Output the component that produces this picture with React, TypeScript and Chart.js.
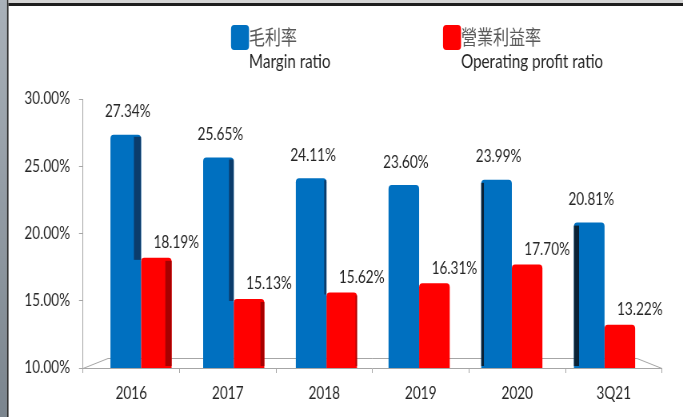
import React, { useEffect, useRef } from 'react';
import { Chart, registerables } from 'chart.js';

Chart.register(...registerables);

// ---- data ----
const CATEGORIES = ['2016', '2017', '2018', '2019', '2020', '3Q21'];
const MARGIN_RATIO = [27.34, 25.65, 24.11, 23.6, 23.99, 20.81];
const OPERATING_PROFIT_RATIO = [18.19, 15.13, 15.62, 16.31, 17.7, 13.22];
const SERIES_ZH = ['毛利率', '營業利益率'];
const SERIES_EN = ['Margin ratio', 'Operating profit ratio'];
const Y_MIN = 10;
const Y_MAX = 30;
const Y_STEP = 5;

// ---- style / layout ----
// The reference is a horizontally squeezed picture: the chart is drawn on a
// wider canvas and squeezed with a CSS transform to the 683px window.
const VIEW_W = 683;
const VIEW_H = 417;
const CANVAS_W = 854;
const SX = VIEW_W / CANVAS_W;
const LATIN = 'Lato, "Open Sans", sans-serif';
const CJK = '"Noto Sans CJK TC", "Noto Sans CJK SC", sans-serif';
const FRONT = ['#0070C0', '#FF0000'];
const SIDE_RIGHT = ['#0b3c6b', '#a80000'];
const SIDE_LEFT = '#0a2236';
const TEXT = '#262626';
const AXIS = '#a6a6a6';

const backgroundPlugin = {
  id: 'bgFrame',
  beforeDraw(chart: any) {
    const { ctx, width, height } = chart;
    ctx.save();
    ctx.fillStyle = '#ffffff';
    ctx.fillRect(0, 0, width, height);
    const g = ctx.createLinearGradient(0, 0, 0, height);
    g.addColorStop(0, '#a9b1b9');
    g.addColorStop(1, '#7b858e');
    ctx.fillStyle = g;
    ctx.fillRect(0, 0, 7 / SX, height);
    ctx.fillStyle = '#2b2b2b';
    ctx.fillRect(7 / SX, 0, 1.5 / SX, height);
    ctx.fillStyle = '#d4d4d4';
    ctx.fillRect(8.5 / SX, 0, width, 3);
    ctx.fillStyle = '#1e1e1e';
    ctx.fillRect(8.5 / SX, 3, width, 3);
    ctx.restore();
  },
};

const floorPlugin = {
  id: 'floor3d',
  beforeDatasetsDraw(chart: any) {
    const { ctx, chartArea } = chart;
    const { left, right, bottom } = chartArea;
    const d = 25 / SX;
    ctx.save();
    ctx.strokeStyle = AXIS;
    ctx.lineWidth = 1;
    ctx.beginPath();
    ctx.moveTo(left, bottom + 0.5);
    ctx.lineTo(left + d, bottom - 9.5);
    ctx.lineTo(right - d, bottom - 9.5);
    ctx.lineTo(right, bottom + 0.5);
    ctx.stroke();
    ctx.restore();
  },
};

const sidePlugin = {
  id: 'side3d',
  afterDatasetsDraw(chart: any) {
    const { ctx, chartArea } = chart;
    const cx = chartArea.left + (chartArea.right - chartArea.left) * 0.54;
    const floor = chartArea.bottom;
    const m0 = chart.getDatasetMeta(0);
    const m1 = chart.getDatasetMeta(1);
    ctx.save();
    m0.data.forEach((bar: any, i: number) => {
      const p = bar.getProps(['x', 'y', 'base', 'width'], true);
      const base = Math.min(p.base, floor);
      const s = (cx - p.x) / 38;
      if (s >= 1) {
        const r = m1.data[i].getProps(['y'], true);
        const bottom = Math.min(base, r.y + 2);
        ctx.fillStyle = SIDE_RIGHT[0];
        ctx.fillRect(p.x + p.width / 2 - s, p.y + 2, s, bottom - p.y - 2);
      } else if (s <= -1) {
        ctx.fillStyle = SIDE_LEFT;
        ctx.fillRect(p.x - p.width / 2, p.y + 3, -s, base - p.y - 5);
      }
    });
    m1.data.forEach((bar: any) => {
      const p = bar.getProps(['x', 'y', 'base', 'width'], true);
      const base = Math.min(p.base, floor);
      const s = (cx - p.x) / 38;
      if (s >= 1) {
        ctx.fillStyle = SIDE_RIGHT[1];
        ctx.fillRect(p.x + p.width / 2 - s, p.y + 3, s, base - p.y - 5);
      }
    });
    ctx.restore();
  },
};

const labelPlugin = {
  id: 'valueLabels',
  afterDatasetsDraw(chart: any) {
    const { ctx } = chart;
    const offsets = [
      { dx: 2 / SX, dy: -23 },
      { dx: 20 / SX, dy: -15 },
    ];
    ctx.save();
    ctx.font = `17px ${LATIN}`;
    ctx.fillStyle = TEXT;
    ctx.textAlign = 'center';
    ctx.textBaseline = 'middle';
    chart.data.datasets.forEach((ds: any, di: number) => {
      const meta = chart.getDatasetMeta(di);
      meta.data.forEach((bar: any, i: number) => {
        const p = bar.getProps(['x', 'y'], true);
        const v = ds.data[i].y as number;
        ctx.fillText(v.toFixed(2) + '%', p.x + offsets[di].dx, p.y + offsets[di].dy);
      });
    });
    ctx.restore();
  },
};

const legendPlugin = {
  id: 'customLegend',
  afterDraw(chart: any) {
    const { ctx } = chart;
    const xs = [231 / SX, 443 / SX];
    const sw = 18 / SX;
    ctx.save();
    chart.data.datasets.forEach((ds: any, i: number) => {
      const x = xs[i];
      ctx.fillStyle = ds.backgroundColor;
      ctx.beginPath();
      (ctx as any).roundRect(x, 25, sw, 25, 4);
      ctx.fill();
      ctx.textAlign = 'left';
      ctx.textBaseline = 'middle';
      ctx.fillStyle = '#595959';
      ctx.font = `20px ${CJK}`;
      ctx.fillText(SERIES_ZH[i], x + sw, 37);
      ctx.fillStyle = TEXT;
      ctx.font = `19px ${LATIN}`;
      ctx.fillText(SERIES_EN[i], x + sw, 62);
    });
    ctx.restore();
  },
};

export default function App() {
  const ref = useRef<HTMLCanvasElement | null>(null);

  useEffect(() => {
    if (!ref.current) return;
    const series = [MARGIN_RATIO, OPERATING_PROFIT_RATIO];
    const chart = new Chart(ref.current, {
      type: 'bar',
      data: {
        labels: CATEGORIES,
        datasets: series.map((vals, si) => ({
          label: SERIES_EN[si],
          data: vals.map((v, i) => ({ x: i, y: v })),
          xAxisID: 'xb',
          yAxisID: 'y',
          backgroundColor: FRONT[si],
          borderWidth: 0,
          borderRadius: 4,
          borderSkipped: false,
          categoryPercentage: 0.66,
          barPercentage: 1,
        })),
      },
      options: {
        animation: false,
        responsive: false,
        devicePixelRatio: 1,
        layout: { padding: { left: 0, top: 99, right: CANVAS_W - 662 / SX, bottom: 0 } },
        plugins: {
          legend: { display: false },
          tooltip: { enabled: false },
        },
        scales: {
          x: {
            type: 'category',
            position: 'bottom',
            offset: true,
            grid: {
              display: true,
              offset: true,
              drawOnChartArea: false,
              drawTicks: true,
              tickLength: 5,
              color: AXIS,
            },
            border: { display: true, color: AXIS },
            ticks: { font: { family: LATIN, size: 17 }, color: TEXT, padding: 10 },
            afterFit: (s: any) => {
              s.height = VIEW_H - 368;
            },
          },
          xb: {
            type: 'linear',
            display: false,
            offset: false,
            grid: { offset: false },
            min: -0.6257,
            max: 5.62,
            afterBuildTicks: (s: any) => {
              s.ticks = CATEGORIES.map((_, i) => ({ value: i }));
            },
          },
          y: {
            type: 'linear',
            position: 'left',
            min: Y_MIN,
            max: Y_MAX,
            grid: {
              display: true,
              drawOnChartArea: false,
              drawTicks: true,
              tickLength: 4 / SX,
              color: AXIS,
            },
            border: { display: true, color: AXIS },
            ticks: {
              stepSize: Y_STEP,
              font: { family: LATIN, size: 17 },
              color: TEXT,
              padding: 83 / SX - 4 / SX - 70 / SX,
              callback: (v: any) => Number(v).toFixed(2) + '%',
            },
            afterFit: (s: any) => {
              s.width = 83 / SX;
            },
          },
        },
      } as any,
      plugins: [backgroundPlugin, floorPlugin, sidePlugin, labelPlugin, legendPlugin],
    });
    return () => chart.destroy();
  }, []);

  return (
    <div
      style={{
        position: 'absolute',
        left: 0,
        top: 0,
        width: VIEW_W,
        height: VIEW_H,
        overflow: 'hidden',
        background: '#ffffff',
      }}
    >
      <div style={{ width: CANVAS_W, height: VIEW_H, transform: `scaleX(${SX})`, transformOrigin: '0 0' }}>
        <canvas
          ref={ref}
          width={CANVAS_W}
          height={VIEW_H}
          style={{ display: 'block', width: CANVAS_W, height: VIEW_H }}
        />
      </div>
    </div>
  );
}
